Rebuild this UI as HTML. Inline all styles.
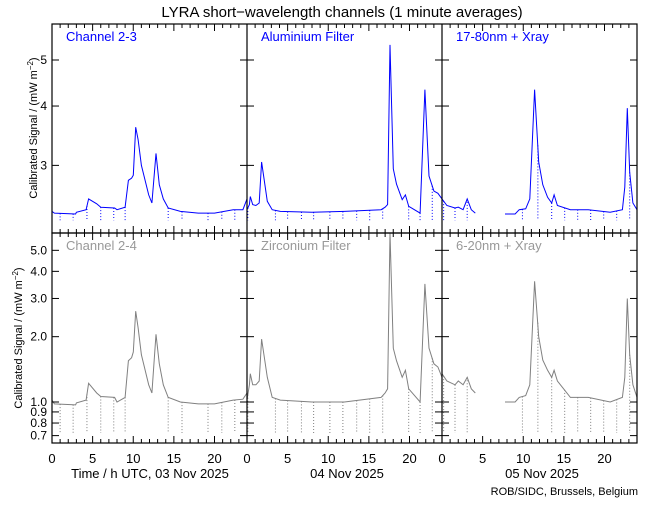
<!DOCTYPE html>
<html><head><meta charset="utf-8"><style>
body{margin:0;background:#fff;}
svg text{font-family:"Liberation Sans",sans-serif;}
</style></head><body>
<svg id="chart" width="650" height="500" xmlns="http://www.w3.org/2000/svg">
<rect width="650" height="500" fill="#fff"/>
<text x="342" y="17" font-size="15" text-anchor="middle" fill="#000">LYRA short−wavelength channels (1 minute averages)</text>
<g id="plots"></g>
<text transform="translate(37,128) rotate(-90)" font-size="11" text-anchor="middle">Calibrated Signal / (mW m<tspan dy="-4" font-size="8">−2</tspan><tspan dy="4">)</tspan></text>
<text transform="translate(22,338) rotate(-90)" font-size="11" text-anchor="middle">Calibrated Signal / (mW m<tspan dy="-4" font-size="8">−2</tspan><tspan dy="4">)</tspan></text>
<text x="150" y="478" font-size="13" text-anchor="middle">Time / h UTC, 03 Nov 2025</text>
<text x="347" y="478" font-size="13" text-anchor="middle">04 Nov 2025</text>
<text x="542" y="478" font-size="13" text-anchor="middle">05 Nov 2025</text>
<text x="638" y="495" font-size="11" text-anchor="end">ROB/SIDC, Brussels, Belgium</text>
</svg>
<script>
// ---- data ----
const panelNames = ["Channel 2-3","Aluminium Filter","17-80nm + Xray"];
const panelNamesBottom = ["Channel 2-4","Zirconium Filter","6-20nm + Xray"];
const times1 = [0,0.3,2.9,3.0,4.2,4.5,5.5,6.0,7.7,8.0,9.0,9.4,9.8,10.0,10.3,10.6,11.0,11.9,12.3,12.8,13.2,13.7,14.3,15.8,18.0,20.0,22.3,23.5,24];
const top1 = [2.40,2.38,2.37,2.39,2.42,2.55,2.49,2.45,2.44,2.42,2.45,2.79,2.82,2.86,3.61,3.40,3.00,2.60,2.50,3.18,2.73,2.55,2.44,2.40,2.38,2.38,2.42,2.42,2.55];
const bot1 = [1.02,0.98,0.97,0.99,1.02,1.22,1.10,1.06,1.05,1.00,1.05,1.55,1.60,1.70,2.62,2.20,1.65,1.20,1.10,2.05,1.50,1.20,1.05,1.00,0.98,0.98,1.02,1.03,1.10];
const times2 = [0,0.3,0.4,0.7,1.1,1.5,1.8,2.5,3.1,4.1,8,12,16.5,17.0,17.3,17.6,18.0,18.4,19.1,19.5,19.9,21.3,21.9,22.4,23.0,23.5,24];
const top2 = [2.42,2.48,2.58,2.48,2.47,2.50,3.05,2.52,2.42,2.40,2.39,2.40,2.42,2.45,2.48,5.38,2.95,2.74,2.54,2.60,2.46,2.38,4.33,2.85,2.65,2.62,2.55];
const bot2 = [1.02,1.20,1.35,1.20,1.20,1.25,1.95,1.30,1.05,1.02,1.00,1.00,1.05,1.10,1.15,6.00,1.77,1.55,1.30,1.40,1.15,1.00,3.50,1.77,1.50,1.45,1.30];
const times3 = [0,0.6,1.6,2.0,2.6,3.1,3.6,4.1,null,7.75,9.0,9.5,10.3,10.8,11.4,11.9,12.4,13.0,13.5,13.8,14.2,15.8,18,20.7,22.2,22.5,22.8,23.1,23.5,24];
const top3 = [2.55,2.47,2.44,2.45,2.42,2.55,2.42,2.38,null,2.37,2.37,2.42,2.43,2.55,4.33,3.05,2.73,2.57,2.50,2.60,2.47,2.42,2.42,2.39,2.42,2.70,3.96,2.90,2.50,2.42];
const bot3 = [1.35,1.25,1.20,1.25,1.20,1.30,1.15,1.10,null,1.00,1.00,1.05,1.07,1.20,3.60,2.00,1.56,1.40,1.30,1.40,1.25,1.05,1.05,1.00,1.05,1.30,3.00,1.65,1.20,1.05];
const dips1 = [1,2.6,4.3,6,7.6,9.0,14.3,16,19.2,20.9,22.5];
const dips2 = [0.1,3.5,5.0,6.7,8.2,10.2,11.8,13.5,15.1,16.7,19.9,21.3,22.8];
const dips3 = [0.2,1.6,3.1,9.9,11.8,13.5,15.1,16.7,18.3,19.9,21.5,23.1];
const topTicks = [3,4,5];
const botTicks = [0.7,0.8,0.9,1.0,2.0,3.0,4.0,5.0];
const botTickLabels = ["0.7","0.8","0.9","1.0","2.0","3.0","4.0","5.0"];
const xTicks = [0,5,10,15,20];
const topDip = 2.3, botDip = 0.72;

// ---- scales ----
const panelX0 = [52,247,442], panelW = 195;
function xs(p,t){return panelX0[p]+t*panelW/24;}
function yTop(v){return 60-475*Math.log10(v/5);}
function yBot(v){return 402-217*Math.log10(v);}
const NS="http://www.w3.org/2000/svg";
const g=document.getElementById('plots');
function el(tag,attrs,parent){const e=document.createElementNS(NS,tag);for(const k in attrs)e.setAttribute(k,attrs[k]);(parent||g).appendChild(e);return e;}

const series=[[times1,top1,bot1,dips1],[times2,top2,bot2,dips2],[times3,top3,bot3,dips3]];
const rows=[{y0:24,y1:233,f:yTop,key:1,color:"#0000ff",lab:"#0000ff",names:panelNames,dip:topDip,clip:"cT"},
            {y0:233,y1:443,f:yBot,key:2,color:"#808080",lab:"#999999",names:panelNamesBottom,dip:botDip,clip:"cB"}];
const defs=el('defs',{});
rows.forEach(r=>{const c=el('clipPath',{id:r.clip},defs);el('rect',{x:52,y:r.y0,width:585,height:r.y1-r.y0},c);});

rows.forEach((r,ri)=>{
  for(let p=0;p<3;p++){
    const s=series[p], ts=s[0], vs=s[r.key];
    let segs=[],cur=[];
    for(let i=0;i<ts.length;i++){
      if(ts[i]===null){if(cur.length)segs.push(cur);cur=[];continue;}
      cur.push(xs(p,ts[i]).toFixed(1)+","+r.f(vs[i]).toFixed(1));
    }
    if(cur.length)segs.push(cur);
    segs.forEach(sg=>{
      const pl=el('polyline',{points:sg.join(" "),fill:"none",stroke:r.color,"stroke-width":1,"clip-path":"url(#"+r.clip+")"});
      
      
    });
    s[3].forEach(t=>{
      let base=null;
      for(let i=0;i<ts.length-1;i++){if(ts[i]!==null&&ts[i+1]!==null&&t>=ts[i]&&t<=ts[i+1]){const a=(t-ts[i])/(ts[i+1]-ts[i]);base=vs[i]+(vs[i+1]-vs[i])*a;}}
      if(base===null)return;
      const ln=el('line',{x1:xs(p,t),x2:xs(p,t),y1:r.f(base),y2:r.f(r.dip),stroke:r.color,"stroke-width":1,"stroke-dasharray":"1 2"});
      
      
    });
    const tx=el('text',{x:panelX0[p]+14,y:r.y0+17,"font-size":13,fill:r.lab});
    
    
    tx.textContent=r.names[p];
  }
  const fr=el('rect',{x:52,y:r.y0,width:585,height:r.y1-r.y0,fill:"none",stroke:"#000","stroke-width":1.2});
  
  
  [247,442].forEach(x=>{const d=el('line',{x1:x,x2:x,y1:r.y0,y2:r.y1,stroke:"#000","stroke-width":1.2});
    
    });
  const ticks = ri===0?topTicks:botTicks;
  ticks.forEach((v,i)=>{
    const y=r.f(v);
    [52,247,442,637].forEach((x,k)=>{
      if(k<3) el('line',{x1:x,x2:x+7,y1:y,y2:y,stroke:"#000"});
      if(k>0) el('line',{x1:x-7,x2:x,y1:y,y2:y,stroke:"#000"});
    });
    const lt=el('text',{x:47,y:y+4,"font-size":12,"text-anchor":"end"});
    
    
    lt.textContent= ri===0?String(v):botTickLabels[i];
  });
  for(let p=0;p<3;p++){
    for(let h=0;h<=24;h++){
      const x=xs(p,h), len=(h%5===0)?7:4;
      el('line',{x1:x,x2:x,y1:r.y0,y2:r.y0+len,stroke:"#000"});
      el('line',{x1:x,x2:x,y1:r.y1-len,y2:r.y1,stroke:"#000"});
    }
  }
});
for(let p=0;p<3;p++){
  xTicks.forEach(h=>{
    const t=el('text',{x:xs(p,h),y:463,"font-size":13,"text-anchor":"middle"});
    
    
    t.textContent=String(h);
  });
}
</script>
</body></html>
